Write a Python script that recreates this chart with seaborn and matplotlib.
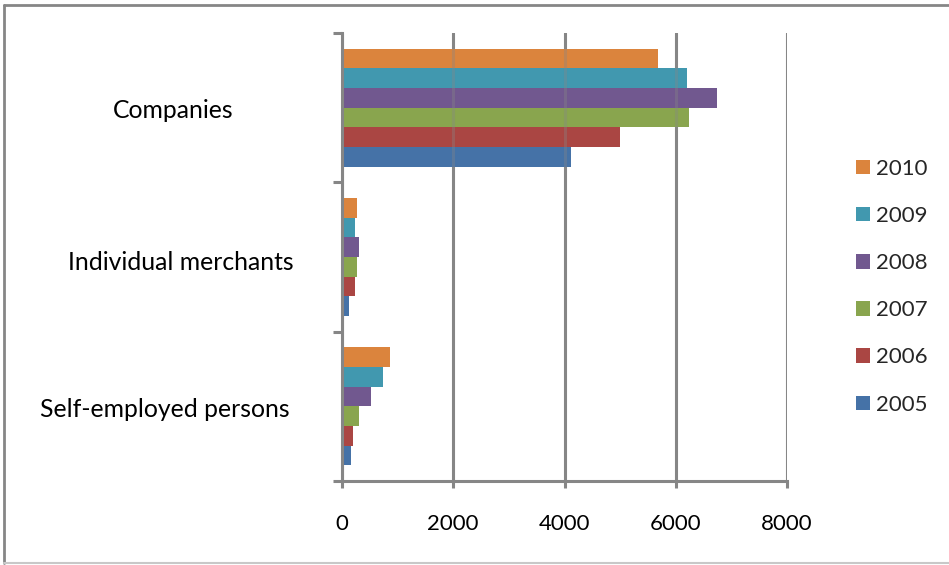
import matplotlib
matplotlib.use("Agg")
import matplotlib.pyplot as plt
from matplotlib.lines import Line2D
from matplotlib.transforms import ScaledTranslation
import seaborn as sns
import pandas as pd

# Registrations by type of business, 2005-2010
categories = ["Companies", "Individual merchants", "Self-employed persons"]
years = ["2010", "2009", "2008", "2007", "2006", "2005"]
values_2010 = [5680, 270, 870]
values_2009 = [6200, 235, 730]
values_2008 = [6740, 305, 520]
values_2007 = [6240, 270, 305]
values_2006 = [5000, 240, 200]
values_2005 = [4110, 125, 165]
x_ticks = [0, 2000, 4000, 6000, 8000]
colors = ["#DB843D", "#4198AF", "#71588F", "#89A54E", "#AA4643", "#4572A7"]

series = {
    "2010": values_2010,
    "2009": values_2009,
    "2008": values_2008,
    "2007": values_2007,
    "2006": values_2006,
    "2005": values_2005,
}
rows = [(c, y, v) for y in years for c, v in zip(categories, series[y])]
df = pd.DataFrame(rows, columns=["category", "year", "value"])

sns.set_theme(style="white")
plt.rcParams["font.family"] = ["Lato", "DejaVu Sans"]
FS_NUM = 16
FS_CAT = 17.8
GREY = "#868686"

W, H = 949, 565
fig = plt.figure(figsize=(W / 100, H / 100), dpi=100)
ax = fig.add_axes([342 / W, 1 - 481 / H, (787 - 342) / W, (481 - 33) / H])

sns.barplot(
    data=df, x="value", y="category", hue="year",
    order=categories, hue_order=years, palette=colors,
    orient="h", width=0.79, saturation=1, errorbar=None,
    edgecolor="none", ax=ax,
)

ax.set_xlim(x_ticks[0], x_ticks[-1])
ax.set_ylim(2.5, -0.5)
ax.set_xlabel("")
ax.set_ylabel("")

# vertical gridlines, with a faint overlay so they show through the bars
ax.set_xticks(x_ticks)
ax.xaxis.grid(True, color=GREY, lw=2.2)
ax.yaxis.grid(False)
ax.set_axisbelow(True)
for xv in x_ticks[1:]:
    ax.axvline(xv, color=GREY, lw=2.2, alpha=0.35, zorder=5)

for side in ("top", "right"):
    ax.spines[side].set_visible(False)
for side in ("left", "bottom"):
    ax.spines[side].set_color(GREY)
    ax.spines[side].set_linewidth(2.2)

ax.tick_params(axis="x", which="major", direction="out", length=5, width=2.2,
               color=GREY, pad=18.5, labelsize=FS_NUM, labelcolor="black",
               bottom=True)
ax.set_yticks([-0.5, 0.5, 1.5, 2.5], minor=True)
ax.tick_params(axis="y", which="minor", direction="out", length=6.5, width=2.2,
               color=GREY, left=True)
ax.tick_params(axis="y", which="major", length=0, pad=121.7, labelsize=FS_CAT,
               labelcolor="black")

# category labels sit centred in the space left of the axis
label_shift_px = [(0, -3), (8, -6), (-8, -3)]
for lbl, (dx, dy) in zip(ax.get_yticklabels(), label_shift_px):
    lbl.set_horizontalalignment("center")
    lbl.set_verticalalignment("center")
    lbl.set_transform(lbl.get_transform()
                      + ScaledTranslation(dx / 100, dy / 100, fig.dpi_scale_trans))

handles, labels = ax.get_legend_handles_labels()
ax.legend(
    handles, labels, loc="upper left",
    bbox_to_anchor=(856 / W, 1 - 159 / H), bbox_transform=fig.transFigure,
    frameon=False, fontsize=FS_NUM, borderpad=0, borderaxespad=0,
    handlelength=0.62, handleheight=0.62, handletextpad=0.3,
    labelspacing=1.22,
)

# chart border
fig.add_artist(Line2D([4 / W, 1], [1 - 5 / H] * 2, color=GREY, lw=2,
                      transform=fig.transFigure))
fig.add_artist(Line2D([4 / W] * 2, [1 - 5 / H, 1 - 563 / H], color=GREY, lw=2,
                      transform=fig.transFigure))
fig.add_artist(Line2D([4 / W, 1], [1 - 563 / H] * 2, color="#c8c8c8", lw=1.5,
                      transform=fig.transFigure))

fig.savefig("out.png", dpi=100)
